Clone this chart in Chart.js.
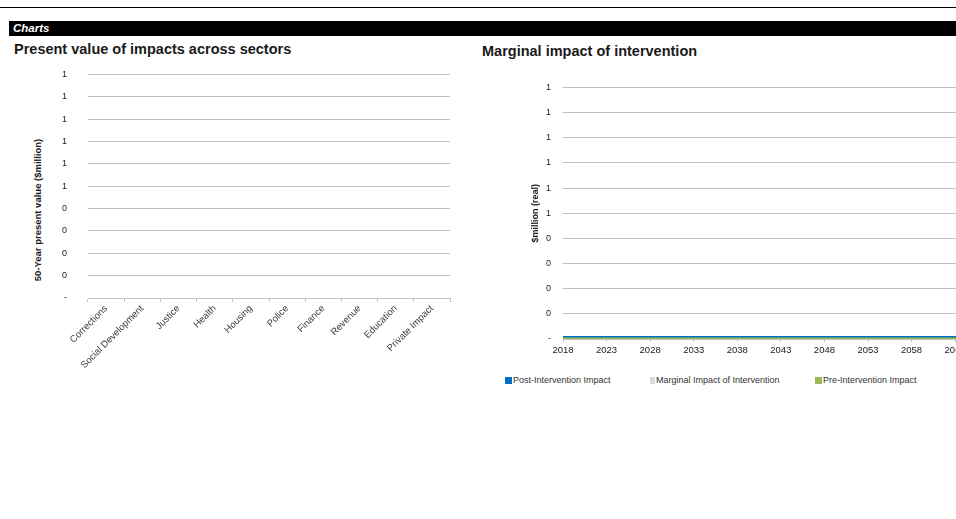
<!DOCTYPE html>
<html>
<head>
<meta charset="utf-8">
<title>Charts</title>
<script src="https://cdn.jsdelivr.net/npm/chart.js@4/dist/chart.umd.min.js"></script>
<style>
  html, body {
    margin: 0;
    padding: 0;
    background: #fff;
    width: 956px;
    height: 519px;
    overflow: hidden;
    font-family: "Liberation Sans", Arial, sans-serif;
  }
  .rule { position: absolute; left: 0; top: 7px; width: 956px; height: 1px; background: #000; }
  .band {
    position: absolute; left: 9px; top: 21px; width: 947px; height: 15px;
    background: #000; color: #fff; box-sizing: border-box; padding-left: 4px;
    font: italic bold 11.5px "Liberation Sans", Arial, sans-serif; line-height: 15px;
  }
  .title { position: absolute; font: bold 14.5px "Liberation Sans", Arial, sans-serif; color: #1a1a1a; line-height: 16px; white-space: nowrap; }
  .ytitle {
    position: absolute; white-space: nowrap; color: #1a1a1a;
    font: bold 9.5px "Liberation Sans", Arial, sans-serif;
    transform: translate(-50%, -50%) rotate(-90deg);
  }
  .box { position: absolute; }
  .legend { position: absolute; top: 375px; font: 9px "Liberation Sans", Arial, sans-serif; color: #333; white-space: nowrap; }
  .legend span.sw { display: inline-block; width: 7px; height: 7px; vertical-align: -1px; margin-right: 1px; }
</style>
</head>
<body>
<div class="rule"></div>
<div class="band">Charts</div>

<div class="title" style="left:14px; top:41px;">Present value of impacts across sectors</div>
<div class="title" style="left:482px; top:43px;">Marginal impact of intervention</div>

<div class="ytitle" style="left:37px; top:210px;">50-Year present value ($million)</div>

<div class="box" style="left:0; top:48px;"><canvas id="sectorChart" width="460" height="320"></canvas></div>
<div class="box" style="left:530px; top:70px;"><canvas id="marginalChart" width="470" height="289"></canvas></div>

<div class="legend" style="left:505px;"><span class="sw" style="background:#0070C0"></span>Post-Intervention Impact</div>
<div class="legend" style="left:650px;"><span class="sw" style="background:#D9D9D9; width:5px;"></span>Marginal Impact of Intervention</div>
<div class="legend" style="left:815px;"><span class="sw" style="background:#9BBB59"></span>Pre-Intervention Impact</div>

<script>
// Sectors and their 50-year present values ($million)
const sectors = ["Corrections", "Social Development", "Justice", "Health", "Housing",
  "Police", "Finance", "Revenue", "Education", "Private Impact"];
const sectorValues = [0, 0, 0, 0, 0, 0, 0, 0, 0, 0];

// Yearly impact series ($million, real)
const years = [
  "2018", "2019", "2020", "2021", "2022", "2023", "2024", "2025", "2026", "2027",
  "2028", "2029", "2030", "2031", "2032", "2033", "2034", "2035", "2036", "2037",
  "2038", "2039", "2040", "2041", "2042", "2043", "2044", "2045", "2046", "2047",
  "2048", "2049", "2050", "2051", "2052", "2053", "2054", "2055", "2056", "2057",
  "2058", "2059", "2060", "2061", "2062", "2063", "2064", "2065", "2066", "2067"
];
const postIntervention = [
  0, 0, 0, 0, 0, 0, 0, 0, 0, 0, 0, 0, 0, 0, 0, 0, 0, 0, 0, 0, 0, 0, 0, 0, 0,
  0, 0, 0, 0, 0, 0, 0, 0, 0, 0, 0, 0, 0, 0, 0, 0, 0, 0, 0, 0, 0, 0, 0, 0, 0
];
const marginalImpact = [
  0, 0, 0, 0, 0, 0, 0, 0, 0, 0, 0, 0, 0, 0, 0, 0, 0, 0, 0, 0, 0, 0, 0, 0, 0,
  0, 0, 0, 0, 0, 0, 0, 0, 0, 0, 0, 0, 0, 0, 0, 0, 0, 0, 0, 0, 0, 0, 0, 0, 0
];
const preIntervention = [
  0, 0, 0, 0, 0, 0, 0, 0, 0, 0, 0, 0, 0, 0, 0, 0, 0, 0, 0, 0, 0, 0, 0, 0, 0,
  0, 0, 0, 0, 0, 0, 0, 0, 0, 0, 0, 0, 0, 0, 0, 0, 0, 0, 0, 0, 0, 0, 0, 0, 0
];

// axis range shared by both charts
const axisMin = 0;
const axisMax = 1;
const axisStep = 0.1;
const yearLabelEvery = 5;

const FONT = "'Liberation Sans', Arial, sans-serif";
const GRID = "#c0c0c0";

// whole-number labels, zero shown as a dash
function wholeLabel(v) {
  if (Math.abs(v) < 1e-9) return "-";
  return String(Math.round(Math.round(v * 10) / 10));
}

Chart.defaults.font.family = FONT;
Chart.defaults.animation = false;

/* --------------------------
   Present value by sector
   -------------------------- */
new Chart(document.getElementById("sectorChart"), {
  type: "bar",
  data: {
    labels: sectors,
    datasets: [{
      label: "Present value",
      data: sectorValues,
      backgroundColor: "#0070C0",
    }],
  },
  options: {
    responsive: false,
    layout: { padding: { top: 13, right: 10, left: 0, bottom: 0 } },
    plugins: { legend: { display: false }, tooltip: { enabled: false } },
    scales: {
      x: {
        afterFit: (s) => { s.height = 70; },
        grid: { drawOnChartArea: false, drawTicks: true, tickLength: 4, color: GRID, offset: true },
        border: { color: GRID },
        ticks: {
          minRotation: 45, maxRotation: 45, padding: 1, autoSkip: false,
          color: "#404040", font: { size: 9.5 },
        },
      },
      y: {
        min: axisMin, max: axisMax,
        afterFit: (s) => { s.width = 88; },
        grid: { color: GRID, drawTicks: false },
        border: { display: false },
        ticks: {
          stepSize: axisStep, padding: 21, color: "#1a1a1a", font: { size: 9 },
          callback: wholeLabel,
        },
      },
    },
  },
});

/* --------------------------
   Marginal impact over time
   -------------------------- */
new Chart(document.getElementById("marginalChart"), {
  type: "line",
  data: {
    labels: years,
    datasets: [
      {
        label: "Pre-Intervention Impact",
        data: preIntervention,
        borderColor: "#9BBB59",
        borderWidth: 3,
        pointRadius: 0,
        clip: { left: 0, right: 0, top: 0, bottom: 0 },
        order: 1,
      },
      {
        label: "Marginal Impact of Intervention",
        data: marginalImpact,
        borderColor: "#D9D9D9",
        borderWidth: 1,
        pointRadius: 0,
        clip: { left: 0, right: 0, top: 0, bottom: 0 },
        order: 2,
      },
      {
        label: "Post-Intervention Impact",
        data: postIntervention,
        borderColor: "#0070C0",
        borderWidth: 6,
        pointRadius: 0,
        clip: { left: 0, right: 0, top: 0, bottom: 0 },
        order: 3,
      },
    ],
  },
  options: {
    responsive: false,
    layout: { padding: { top: 12, right: 10, left: 0, bottom: 0 } },
    plugins: { legend: { display: false }, tooltip: { enabled: false } },
    scales: {
      x: {
        afterFit: (s) => { s.height = 20; },
        grid: {
          drawOnChartArea: false, drawTicks: true, tickLength: 3,
          color: (ctx) => (ctx.index % yearLabelEvery === 0 ? GRID : "rgba(0,0,0,0)"),
        },
        border: { color: GRID },
        ticks: {
          autoSkip: false, maxRotation: 0, padding: 3, color: "#1a1a1a", font: { size: 9.5 },
          callback: (v, i) => (i % yearLabelEvery === 0 ? years[i] : ""),
        },
      },
      y: {
        min: axisMin, max: axisMax,
        afterFit: (s) => { s.width = 33; },
        title: {
          display: true, text: "$million (real)", color: "#1a1a1a",
          font: { size: 9, weight: "bold" }, padding: { top: 0, bottom: 0 },
        },
        grid: { color: GRID, drawTicks: false },
        border: { display: false },
        ticks: {
          stepSize: axisStep, padding: 12, color: "#1a1a1a", font: { size: 9 },
          callback: wholeLabel,
        },
      },
    },
  },
});
</script>
</body>
</html>
